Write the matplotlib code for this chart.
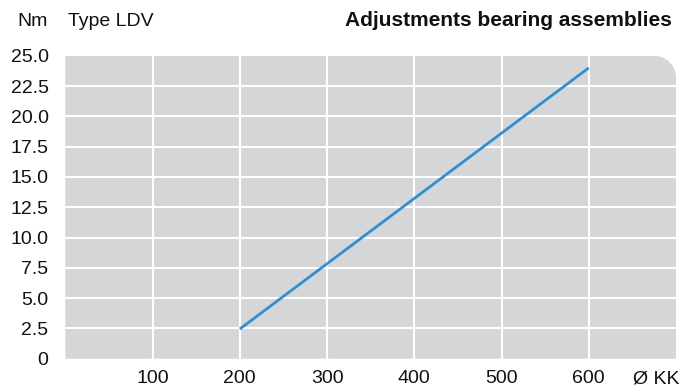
import numpy as np
import matplotlib
matplotlib.use("Agg")
import matplotlib.pyplot as plt
from matplotlib.path import Path
from matplotlib.patches import PathPatch

# data
diameter = [200, 600]          # Ø KK
torque = [2.45, 24.0]          # Nm
x_ticks = [100, 200, 300, 400, 500, 600]
y_ticks = [0, 2.5, 5.0, 7.5, 10.0, 12.5, 15.0, 17.5, 20.0, 22.5, 25.0]
y_labels = ["0", "2.5", "5.0", "7.5", "10.0", "12.5", "15.0", "17.5", "20.0", "22.5", "25.0"]

plt.rcParams["font.family"] = ["Liberation Sans", "DejaVu Sans"]
FS = 14

fig = plt.figure(figsize=(6.88, 3.87), dpi=100)
ax = fig.add_axes([0.0949, 0.0731, 0.8877, 0.7829])
ax.set_xlim(0, 700)
ax.set_ylim(0, 25)
ax.patch.set_visible(False)
for s in ax.spines.values():
    s.set_visible(False)

# grey panel with rounded top-right corner (axes coords)
w_px = 0.8877 * 688
h_px = 0.7829 * 387
r = 22
rx, ry = r / w_px, r / h_px
t = np.linspace(0, np.pi / 2, 20)
arc = np.column_stack([1 - rx + rx * np.cos(t), 1 - ry + ry * np.sin(t)])
verts = [(0, 0), (1, 0)] + [tuple(p) for p in arc] + [(0, 1), (0, 0)]
codes = [Path.MOVETO] + [Path.LINETO] * (len(verts) - 2) + [Path.CLOSEPOLY]
panel = PathPatch(Path(verts, codes), transform=ax.transAxes,
                  facecolor="#d5d6d8", edgecolor="none", zorder=0)
ax.add_patch(panel)

# grid
for xv in x_ticks:
    ax.axvline(xv, color="white", lw=1.5, zorder=1)
for yv in y_ticks[1:-1]:
    ax.axhline(yv, color="white", lw=1.5, zorder=1)

ax.plot(diameter, torque, color="#2f8fd0", lw=2, zorder=3,
        solid_capstyle="butt")

ax.set_xticks(x_ticks)
ax.set_xticklabels([str(v) for v in x_ticks])
ax.set_yticks(y_ticks)
ax.set_yticklabels(y_labels)
ax.tick_params(axis="both", length=0, labelsize=FS, colors="#111111")
ax.tick_params(axis="x", pad=8)
ax.tick_params(axis="y", pad=12)

ax.text(1.006, -0.068, "Ø KK", transform=ax.transAxes, ha="right",
        va="center", fontsize=FS, color="#111111")

fig.text(48 / 688, 1 - 21 / 387, "Nm", ha="right", va="center",
         fontsize=FS, color="#111111")
fig.text(68 / 688, 1 - 21 / 387, "Type LDV", ha="left", va="center",
         fontsize=FS, color="#111111")
fig.text(672 / 688, 1 - 21 / 387, "Adjustments bearing assemblies",
         ha="right", va="center", fontsize=15, fontweight="bold",
         color="#111111")

fig.savefig("out.png", dpi=100)
